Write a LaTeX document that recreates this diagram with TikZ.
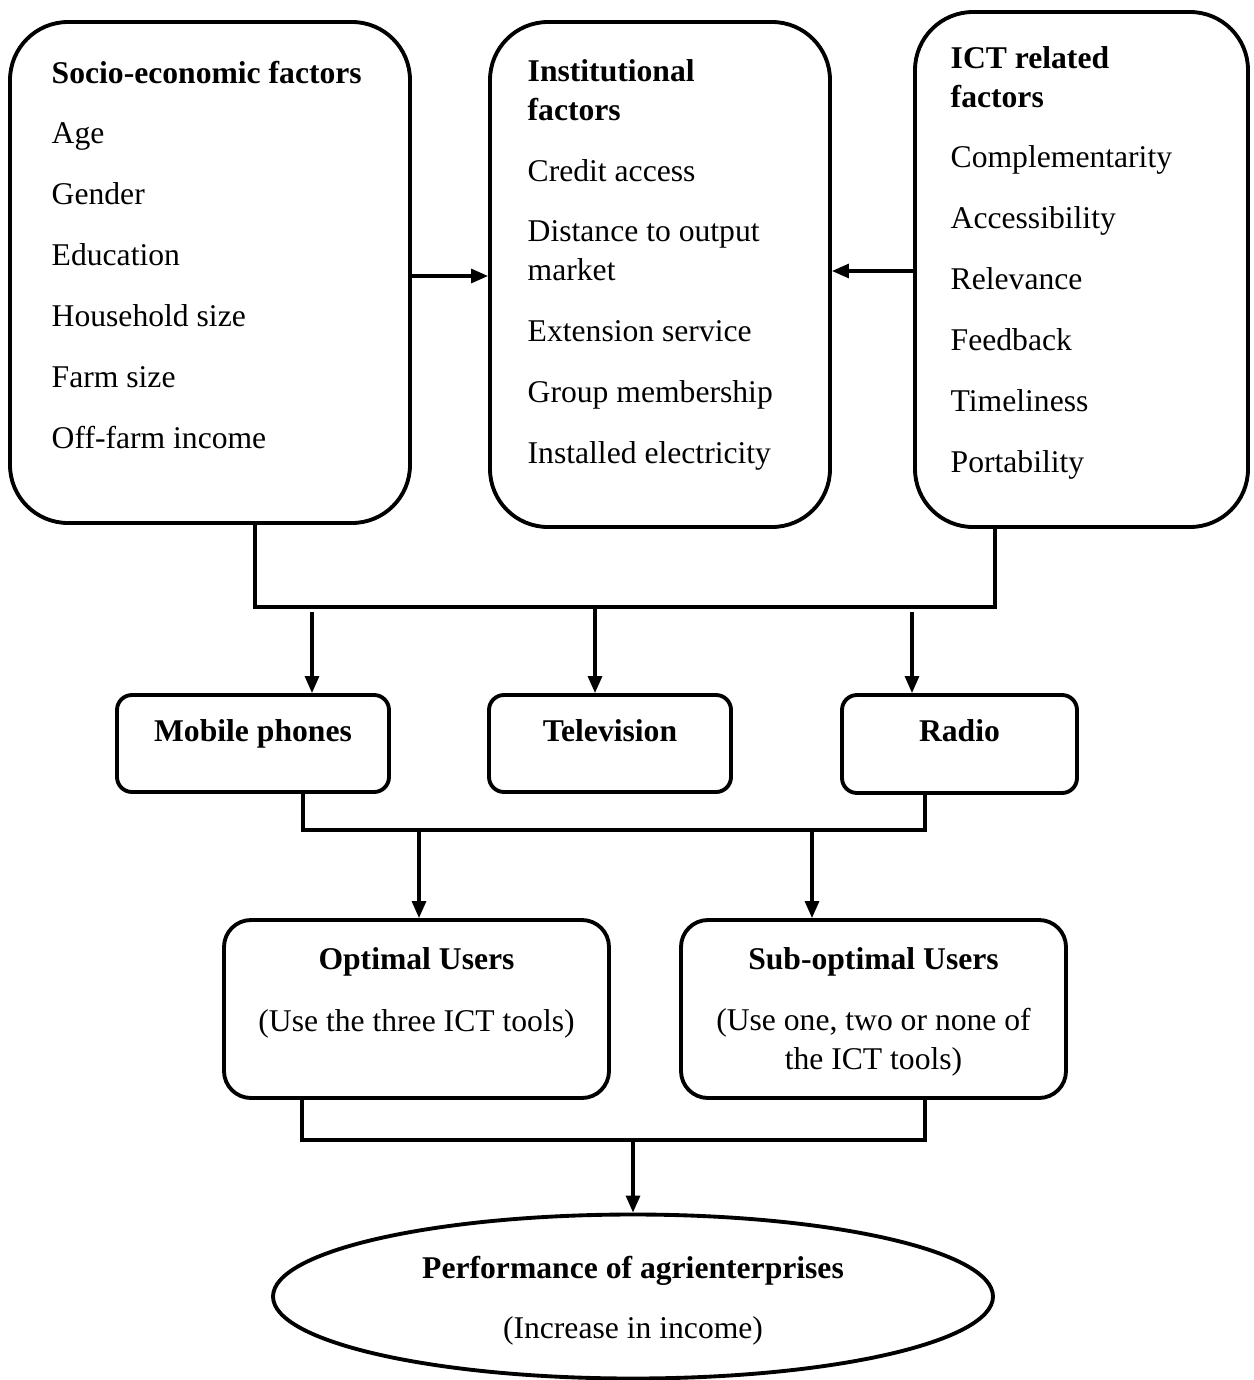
\documentclass[tikz,border=0pt]{standalone}
\usepackage{fontspec}
\setmainfont{Liberation Serif}
\usetikzlibrary{arrows.meta,positioning,shapes.geometric,calc}
\tikzset{
  bigbox/.style={draw, line width=1.1pt, rounded corners=0.58cm, inner sep=0pt},
  toolbox/.style={draw, line width=1.1pt, rounded corners=0.15cm, inner sep=0pt},
  userbox/.style={draw, line width=1.1pt, rounded corners=0.27cm, inner sep=0pt},
  items/.style={align=left, inner sep=0pt, anchor=base west, font=\fontsize{9}{11}\selectfont},
  head/.style={inner sep=0pt, anchor=base, font=\fontsize{9}{11}\selectfont\bfseries},
  sub/.style={align=center, inner sep=0pt, anchor=base, font=\fontsize{9}{11}\selectfont},
  link/.style={line width=0.9pt},
  arr/.style={line width=0.9pt, -{Triangle[length=1.7mm,width=1.4mm]}},
}

\begin{document}
\begin{tikzpicture}
    \useasboundingbox (0,0) rectangle (12.54,-13.80);

    % factor boxes
    \node[bigbox, minimum width=4.00cm, minimum height=5.01cm] (socio) at (2.10,-2.725) {};
    \node[bigbox, minimum width=3.40cm, minimum height=5.05cm] (inst) at (6.60,-2.745) {};
    \node[bigbox, minimum width=3.33cm, minimum height=5.15cm] (ict) at (10.815,-2.695) {};

    % (base of a multi-line node = last line)
    \node[items] (sociotxt) at (0.51,-4.48) {\textbf{Socio-economic factors}\\[6.3pt]
        Age\\[6.3pt] Gender\\[6.3pt] Education\\[6.3pt] Household size\\[6.3pt]
        Farm size\\[6.3pt] Off-farm income};
    \node[items] (insttxt) at (5.27,-4.63) {\textbf{Institutional}\\ \textbf{factors}\\[6.3pt]
        Credit access\\[6.3pt] Distance to output\\ market\\[6.3pt]
        Extension service\\[6.3pt] Group membership\\[6.3pt] Installed electricity};
    \node[items] (icttxt) at (9.50,-4.72) {\textbf{ICT related}\\ \textbf{factors}\\[6.3pt]
        Complementarity\\[6.3pt] Accessibility\\[6.3pt] Relevance\\[6.3pt]
        Feedback\\[6.3pt] Timeliness\\[6.3pt] Portability};

    \draw[arr] ([yshift=-0.035cm]socio.east) -- ([yshift=-0.035cm]socio.east -| inst.west);
    \draw[arr] ([yshift=-0.015cm]ict.west) -- ([yshift=-0.015cm]ict.west -| inst.east);

    % ICT tools
    \node[toolbox, minimum width=2.72cm, minimum height=0.97cm] (mobile) at (2.53,-7.435) {};
    \node[toolbox, minimum width=2.42cm, minimum height=0.97cm] (tv) at (6.10,-7.435) {};
    \node[toolbox, minimum width=2.35cm, minimum height=0.98cm] (radio) at (9.595,-7.44) {};
    \node[head] (mobiletxt) at (2.53,-7.41) {Mobile phones};
    \node[head] (tvtxt) at (6.10,-7.41) {Television};
    \node[head] (radiotxt) at (9.595,-7.41) {Radio};

    \coordinate (bus1) at (6.0,-6.07);
    \draw[link] ([xshift=0.45cm]socio.south) |- (bus1) -| ([xshift=-0.865cm]ict.south);
    \coordinate (t1) at (3.12,-6.12);
    \coordinate (t2) at (5.95,-6.07);
    \coordinate (t3) at (9.12,-6.12);
    \draw[arr] (t1) -- (t1 |- mobile.north);
    \draw[arr] (t2) -- (t2 |- tv.north);
    \draw[arr] (t3) -- (t3 |- radio.north);

    % users
    \node[userbox, minimum width=3.85cm, minimum height=1.78cm] (optimal) at (4.165,-10.09) {};
    \node[userbox, minimum width=3.85cm, minimum height=1.78cm] (subopt) at (8.735,-10.09) {};
    \node[head] (optimaltxt) at (4.165,-9.69) {Optimal Users};
    \node[sub] (optimalsub) at (4.165,-10.31) {(Use the three ICT tools)};
    \node[head] (subopttxt) at (8.735,-9.69) {Sub-optimal Users};
    \node[sub] (suboptsub) at (8.735,-10.69) {(Use one, two or none of\\ the ICT tools)};

    \coordinate (bus2) at (6.0,-8.30);
    \draw[link] ([xshift=0.50cm]mobile.south) |- (bus2) -| ([xshift=-0.345cm]radio.south);
    \coordinate (t4) at (4.19,-8.32);
    \coordinate (t5) at (8.12,-8.30);
    \draw[arr] (t4) -- (t4 |- optimal.north);
    \draw[arr] (t5) -- (t5 |- subopt.north);

    % outcome
    \node[draw, ellipse, line width=1.1pt, inner sep=0pt, minimum width=7.20cm, minimum height=1.64cm] (perf) at (6.33,-12.965) {};
    \node[head] (perftxt) at (6.33,-12.78) {Performance of agrienterprises};
    \node[sub] (perfsub) at (6.33,-13.38) {(Increase in income)};

    \coordinate (bus3) at (6.33,-11.40);
    \draw[link] ([xshift=-1.145cm]optimal.south) |- (bus3) -| ([xshift=0.515cm]subopt.south);
    \draw[arr] (bus3) -- (perf.north);
\end{tikzpicture}
\end{document}
